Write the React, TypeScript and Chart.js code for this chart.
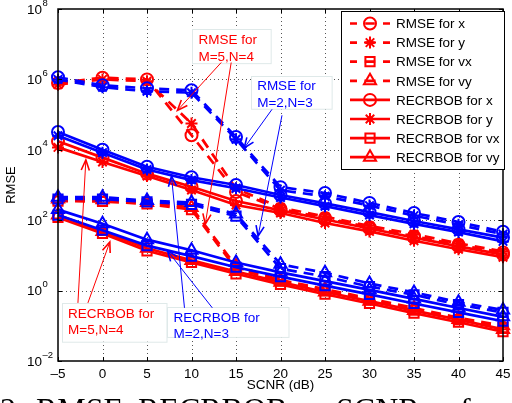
import React, { useEffect, useRef } from "react";
import { Chart, registerables } from "chart.js";
Chart.register(...registerables);

// ---------- data ----------
const SNR = [-5, 0, 5, 10, 15, 20, 25, 30, 35, 40, 45];
const X_TICKS = [-5, 0, 5, 10, 15, 20, 25, 30, 35, 40, 45];
const Y_EXPONENTS = [-2, 0, 2, 4, 6, 8];

// M=5, N=4 (red)
const redRmseX = [7.9e5, 1.12e6, 1.0e6, 2.6e4, 6.3e2, 2.1e2, 1.15e2, 6.3e1, 3.5e1, 2.0e1, 1.2e1];
const redRmseY = [7.1e5, 1.0e6, 8.9e5, 5.6e4, 7.9e2, 2.3e2, 1.26e2, 6.9e1, 4.0e1, 2.2e1, 1.3e1];
const redRmseVx = [3.5e2, 3.4e2, 2.9e2, 2.0e2, 4.2, 1.9, 1.0, 0.54, 0.28, 0.15, 0.089];
const redRmseVy = [4.0e2, 3.8e2, 3.2e2, 2.3e2, 5.0, 2.0, 1.1, 0.6, 0.32, 0.17, 0.1];
const redCrbX = [1.74e4, 6.0e3, 2.1e3, 8.9e2, 3.5e2, 1.9e2, 1.05e2, 5.8e1, 3.2e1, 1.8e1, 1.05e1];
const redCrbY = [1.17e4, 4.5e3, 1.8e3, 7.2e2, 2.7e2, 1.6e2, 8.3e1, 4.8e1, 2.6e1, 1.5e1, 8.9];
const redCrbVx = [1.2e2, 4.2e1, 1.35e1, 6.3, 3.0, 1.5, 0.79, 0.43, 0.23, 0.126, 0.068];
const redCrbVy = [1.4e2, 4.8e1, 1.6e1, 7.2, 3.5, 1.74, 0.91, 0.5, 0.27, 0.15, 0.079];

// M=2, N=3 (blue)
const blueRmseX = [1.15e6, 6.8e5, 5.6e5, 4.9e5, 2.3e4, 8.7e2, 5.9e2, 3.1e2, 1.6e2, 8.9e1, 4.7e1];
const blueRmseY = [1.0e6, 6.0e5, 4.6e5, 4.2e5, 2.0e4, 7.1e2, 4.8e2, 2.6e2, 1.35e2, 7.4e1, 4.0e1];
const blueRmseVx = [4.0e2, 4.0e2, 3.3e2, 2.8e2, 1.3e2, 4.2, 2.5, 1.3, 0.76, 0.4, 0.24];
const blueRmseVy = [4.5e2, 4.5e2, 3.6e2, 3.2e2, 1.5e2, 5.6, 3.2, 1.6, 0.89, 0.47, 0.28];
const blueCrbX = [3.2e4, 1.0e4, 3.3e3, 1.66e3, 1.0e3, 5.2e2, 3.0e2, 1.7e2, 9.5e1, 5.5e1, 3.2e1];
const blueCrbY = [2.5e4, 8.3e3, 2.75e3, 1.38e3, 8.1e2, 4.4e2, 2.5e2, 1.4e2, 7.9e1, 4.6e1, 2.5e1];
const blueCrbVx = [1.4e2, 5.2e1, 1.9e1, 9.5, 4.6, 2.5, 1.38, 0.78, 0.43, 0.24, 0.135];
const blueCrbVy = [2.0e2, 7.9e1, 2.8e1, 1.4e1, 6.3, 3.3, 1.86, 1.05, 0.58, 0.32, 0.18];

const LEGEND_LABELS = [
  "RMSE for x", "RMSE for y", "RMSE for vx", "RMSE for vy",
  "RECRBOB for x", "RECRBOB for y", "RECRBOB for vx", "RECRBOB for vy",
];
const MARKERS = ["circle", "star", "rect", "triangle"];

// caption words (cut off by the bottom edge of the picture) and their left offsets
const CAPTION_WORDS = ["2.", "RMSE,", "RECRBOB", "vs.", "SCNR", "for"];
const CAPTION_LEFT = [0, 36, 138, 293, 336, 460];

// annotations (data units: x in dB, y as log10 exponent)
const NOTES = [
  { lines: ["RMSE for", "M=5,N=4"], color: "#ff0000", box: [10.1, 7.42, 18.94, 6.45],
    arrows: [[13.34, 6.48, 8.42, 5.12], [14.46, 6.48, 11.55, 1.89]] },
  { lines: ["RMSE for", "M=2,N=3"], color: "#0000ff", box: [16.7, 6.11, 25.76, 5.18],
    arrows: [[19.05, 5.15, 15.92, 4.05], [20.17, 4.98, 17.48, 1.55]] },
  { lines: ["RECRBOB for", "M=5,N=4"], color: "#ff0000", box: [-4.55, -0.35, 7.19, -1.45],
    arrows: [[-2.76, -0.35, -1.87, 3.71], [-1.64, -0.35, 0.82, 1.38]] },
  { lines: ["RECRBOB for", "M=2,N=3"], color: "#0000ff", box: [7.3, -0.46, 20.95, -1.31],
    arrows: [[9.21, -0.49, 7.75, 3.25], [12.34, -0.49, 7.3, 1.13]] },
];

const RED = "#ff0000";
const BLUE = "#0000ff";
const FONT = '"Liberation Sans", Arial, Helvetica, sans-serif';
const DASH = [10, 7];

const redSets = [redRmseX, redRmseY, redRmseVx, redRmseVy, redCrbX, redCrbY, redCrbVx, redCrbVy];
const blueSets = [blueRmseX, blueRmseY, blueRmseVx, blueRmseVy, blueCrbX, blueCrbY, blueCrbVx, blueCrbVy];

function radiusFor(m: string) {
  return m === "triangle" ? 7 : m === "rect" ? 6.5 : 6;
}

function makeDataset(values: number[], color: string, idx: number, group: string) {
  const marker = MARKERS[idx % 4];
  const dashed = idx < 4;
  return {
    label: group + " " + LEGEND_LABELS[idx],
    data: SNR.map((x, i) => ({ x, y: values[i] })),
    borderColor: color,
    borderWidth: 2.7,
    borderDash: dashed ? DASH : [],
    pointStyle: marker,
    pointRadius: radiusFor(marker),
    pointBorderWidth: 2,
    pointBorderColor: color,
    pointBackgroundColor: marker === "star" ? color : "rgba(0,0,0,0)",
    fill: false,
    tension: 0,
    clip: false,
  };
}

function drawMarker(ctx: CanvasRenderingContext2D, style: string, x: number, y: number, r: number) {
  ctx.beginPath();
  if (style === "circle") {
    ctx.arc(x, y, r, 0, Math.PI * 2);
  } else if (style === "rect") {
    const s = r * Math.SQRT1_2;
    ctx.rect(x - s, y - s, 2 * s, 2 * s);
  } else if (style === "triangle") {
    let a = 0;
    ctx.moveTo(x + Math.sin(a) * r, y - Math.cos(a) * r);
    a += (2 * Math.PI) / 3;
    ctx.lineTo(x + Math.sin(a) * r, y - Math.cos(a) * r);
    a += (2 * Math.PI) / 3;
    ctx.lineTo(x + Math.sin(a) * r, y - Math.cos(a) * r);
    ctx.closePath();
  } else {
    for (let k = 0; k < 4; k++) {
      const a = (k * Math.PI) / 4;
      ctx.moveTo(x - Math.cos(a) * r, y - Math.sin(a) * r);
      ctx.lineTo(x + Math.cos(a) * r, y + Math.sin(a) * r);
    }
  }
  ctx.stroke();
}

function arrow(ctx: CanvasRenderingContext2D, x1: number, y1: number, x2: number, y2: number) {
  ctx.lineWidth = 1;
  ctx.beginPath();
  ctx.moveTo(x1, y1);
  ctx.lineTo(x2, y2);
  ctx.stroke();
  const a = Math.atan2(y2 - y1, x2 - x1);
  const L = 11, sp = 0.38;
  ctx.lineWidth = 1.6;
  ctx.beginPath();
  ctx.moveTo(x2 - L * Math.cos(a - sp), y2 - L * Math.sin(a - sp));
  ctx.lineTo(x2, y2);
  ctx.lineTo(x2 - L * Math.cos(a + sp), y2 - L * Math.sin(a + sp));
  ctx.stroke();
}

const overlay = {
  id: "overlay",
  beforeDatasetsDraw(chart: any) {
    const { ctx, chartArea: ca, scales } = chart;
    const xs = scales.x, ys = scales.y;
    ctx.save();
    ctx.strokeStyle = "#555";
    ctx.lineWidth = 1;
    ctx.setLineDash([1, 3]);
    X_TICKS.slice(1, -1).forEach((v) => {
      const px = Math.round(xs.getPixelForValue(v)) + 0.5;
      ctx.beginPath();
      ctx.moveTo(px, ca.top);
      ctx.lineTo(px, ca.bottom);
      ctx.stroke();
    });
    Y_EXPONENTS.slice(1, -1).forEach((e) => {
      const py = Math.round(ys.getPixelForValue(Math.pow(10, e))) + 0.5;
      ctx.beginPath();
      ctx.moveTo(ca.left, py);
      ctx.lineTo(ca.right, py);
      ctx.stroke();
    });
    ctx.restore();
  },
  afterDatasetsDraw(chart: any) {
    const { ctx, chartArea: ca, scales } = chart;
    const xs = scales.x, ys = scales.y;
    const X = (v: number) => xs.getPixelForValue(v);
    const Y = (l: number) => ys.getPixelForValue(Math.pow(10, l));
    ctx.save();

    // frame
    ctx.strokeStyle = "#000";
    ctx.lineWidth = 1.5;
    ctx.strokeRect(ca.left, ca.top, ca.right - ca.left, ca.bottom - ca.top);
    ctx.lineWidth = 1;
    X_TICKS.forEach((v) => {
      const px = Math.round(X(v)) + 0.5;
      ctx.beginPath();
      ctx.moveTo(px, ca.bottom); ctx.lineTo(px, ca.bottom - 4);
      ctx.moveTo(px, ca.top); ctx.lineTo(px, ca.top + 4);
      ctx.stroke();
    });
    Y_EXPONENTS.forEach((e) => {
      const py = Math.round(Y(e)) + 0.5;
      ctx.beginPath();
      ctx.moveTo(ca.left, py); ctx.lineTo(ca.left + 4, py);
      ctx.moveTo(ca.right, py); ctx.lineTo(ca.right - 4, py);
      ctx.stroke();
    });

    // y tick labels 10^e
    ctx.fillStyle = "#000";
    ctx.textBaseline = "middle";
    Y_EXPONENTS.forEach((e) => {
      const py = Y(e);
      ctx.font = "13.5px " + FONT;
      ctx.textAlign = "right";
      ctx.fillText("10", ca.left - 16, py + 1);
      ctx.font = "9.5px " + FONT;
      ctx.textAlign = "left";
      ctx.fillText(e < 0 ? "\u2013" + Math.abs(e) : String(e), ca.left - 15.5, py - 6);
    });

    // annotations
    NOTES.forEach((n) => {
      const x0 = X(n.box[0]), y0 = Y(n.box[1]), x1 = X(n.box[2]), y1 = Y(n.box[3]);
      ctx.fillStyle = "#fff";
      ctx.fillRect(x0, y0, x1 - x0, y1 - y0);
      ctx.strokeStyle = "#dfe9e9";
      ctx.lineWidth = 1;
      ctx.strokeRect(Math.round(x0) + 0.5, Math.round(y0) + 0.5, x1 - x0, y1 - y0);
      ctx.fillStyle = n.color;
      ctx.font = "13.5px " + FONT;
      ctx.textAlign = "left";
      ctx.textBaseline = "middle";
      n.lines.forEach((t, i) => ctx.fillText(t, x0 + 6, y0 + 11 + i * 16.5));
      ctx.strokeStyle = n.color;
      n.arrows.forEach((a) => arrow(ctx, X(a[0]), Y(a[1]), X(a[2]), Y(a[3])));
    });

    // legend
    const lw = 163, lh = 158;
    const lx = ca.right - lw + 1, ly = ca.top + 2;
    ctx.fillStyle = "#fff";
    ctx.fillRect(lx, ly, lw, lh);
    ctx.strokeStyle = "#000";
    ctx.lineWidth = 1;
    ctx.strokeRect(Math.round(lx) + 0.5, Math.round(ly) + 0.5, lw, lh);
    LEGEND_LABELS.forEach((label, i) => {
      const y = ly + 12.5 + i * 19.1;
      const marker = MARKERS[i % 4];
      const a = lx + 9, b = lx + 49, c = lx + 29;
      const r = radiusFor(marker);
      ctx.strokeStyle = RED;
      ctx.lineWidth = 2.7;
      ctx.beginPath();
      if (i < 4) {
        ctx.moveTo(a, y); ctx.lineTo(a + 7, y);
        ctx.moveTo(b - 7, y); ctx.lineTo(b, y);
        ctx.moveTo(c - r * 0.8, y); ctx.lineTo(c + r * 0.8, y);
      } else {
        ctx.moveTo(a, y); ctx.lineTo(b, y);
      }
      ctx.stroke();
      ctx.lineWidth = 2;
      ctx.fillStyle = RED;
      drawMarker(ctx, marker, c, y, r);
      if (marker === "star") {
        ctx.beginPath(); ctx.arc(c, y, 3, 0, Math.PI * 2); ctx.fill();
      }
      ctx.fillStyle = "#000";
      ctx.font = "13.5px " + FONT;
      ctx.textAlign = "left";
      ctx.textBaseline = "middle";
      ctx.fillText(label, lx + 55, y + 1);
    });
    ctx.restore();
  },
};

export default function App() {
  const ref = useRef<HTMLCanvasElement>(null);
  useEffect(() => {
    const datasets: any[] = [];
    blueSets.forEach((v, i) => datasets.push(makeDataset(v, BLUE, i, "M=2,N=3")));
    redSets.forEach((v, i) => datasets.push(makeDataset(v, RED, i, "M=5,N=4")));
    const chart = new Chart(ref.current as HTMLCanvasElement, {
      type: "line",
      data: { datasets },
      plugins: [overlay],
      options: {
        animation: false,
        responsive: false,
        events: [],
        layout: { padding: { left: 0, right: 7, top: 8, bottom: 0 } },
        plugins: { legend: { display: false }, tooltip: { enabled: false } },
        scales: {
          x: {
            type: "linear",
            min: -5,
            max: 45,
            grid: { display: false, drawTicks: false },
            border: { display: false },
            afterBuildTicks: (s: any) => { s.ticks = X_TICKS.map((value) => ({ value })); },
            ticks: {
              autoSkip: false,
              maxRotation: 0,
              padding: 5,
              color: "#000",
              font: { family: FONT, size: 13.5 },
              callback: (v: any) => (Number(v) < 0 ? "\u2013" + Math.abs(Number(v)) : String(v)),
            },
            title: {
              display: true,
              text: "SCNR (dB)",
              color: "#000",
              font: { family: FONT, size: 13.5 },
              padding: { top: 0, bottom: 3 },
            },
            afterFit: (s: any) => { s.height = 35; s.paddingLeft = 0; s.paddingRight = 0; },
          },
          y: {
            type: "logarithmic",
            min: 1e-2,
            max: 1e8,
            grid: { display: false, drawTicks: false },
            border: { display: false },
            ticks: { display: false },
            title: {
              display: true,
              text: "RMSE",
              color: "#000",
              font: { family: FONT, size: 13 },
              padding: { top: 4, bottom: 0 },
            },
            afterFit: (s: any) => { s.width = 58; s.paddingTop = 0; s.paddingBottom = 0; },
          },
        },
      } as any,
    });
    return () => chart.destroy();
  }, []);
  return (
    <div style={{ position: "fixed", left: 0, top: 0, width: 512, height: 403, overflow: "hidden", background: "#fff" }}>
      <canvas ref={ref} width={512} height={396} style={{ position: "absolute", left: 0, top: 0, width: 512, height: 396 }} />
      {CAPTION_WORDS.map((w, i) => (
        <span
          key={i}
          style={{
            position: "absolute",
            left: CAPTION_LEFT[i],
            top: 393,
            fontFamily: '"Liberation Serif", "Times New Roman", serif',
            fontSize: 32,
            lineHeight: "32px",
            whiteSpace: "nowrap",
            color: "#000",
          }}
        >
          {w}
        </span>
      ))}
    </div>
  );
}
